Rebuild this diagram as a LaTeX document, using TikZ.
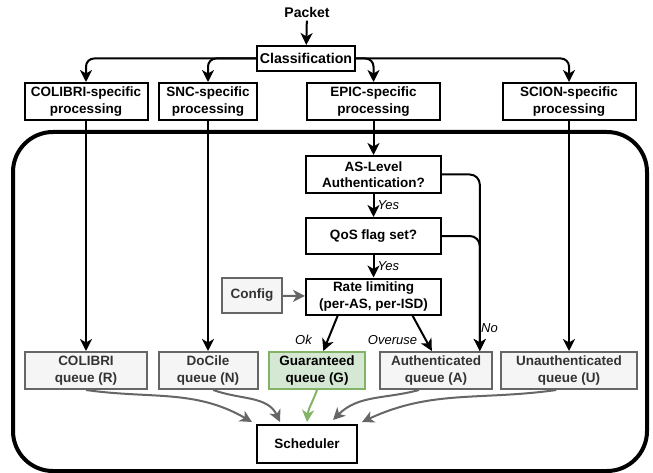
\documentclass[tikz,border=0pt]{standalone}
\usepackage{fontspec}
\setmainfont{Liberation Sans}
\usetikzlibrary{arrows.meta,calc,positioning}
\definecolor{QueueClr}{HTML}{666666}
\definecolor{QueueFill}{HTML}{F5F5F5}
\definecolor{QueueText}{HTML}{333333}
\definecolor{GoodClr}{HTML}{82B366}
\definecolor{GoodFill}{HTML}{D5E8D4}

\begin{document}
\begin{tikzpicture}[x=1pt,y=-1pt,
  box/.style={draw,line width=2pt,fill=white,align=center,inner sep=0pt,
    font=\bfseries\fontsize{13.5}{16.5}\selectfont},
  queue/.style={box,draw=QueueClr,fill=QueueFill,text=QueueText},
  good/.style={box,draw=GoodClr,fill=GoodFill,text=black},
  flow/.style={line width=2pt,-{Stealth[length=12pt,width=12pt,inset=3.5pt]}},
  gflow/.style={flow,draw=QueueClr},
  lbl/.style={font=\itshape\fontsize{13}{15}\selectfont,inner sep=1pt}]
\useasboundingbox (0,0) rectangle (653,473);

\draw[line width=4pt,rounded corners=40pt] (13,132) rectangle (647,471);

\node[font=\bfseries\fontsize{14}{16}\selectfont] (packet) at (307,12) {Packet};
\node[box,minimum width=98pt,minimum height=25pt,font=\bfseries\fontsize{14.2}{16}\selectfont] (classif) at (306,58.5) {Classification};

\node[box,minimum width=123pt,minimum height=37pt] (colibriP) at (86,101.5) {COLIBRI-specific\\processing};
\node[box,minimum width=98pt,minimum height=37pt] (sncP) at (208,101.5) {SNC-specific\\processing};
\node[box,minimum width=133pt,minimum height=37pt] (epicP) at (373.5,101.5) {EPIC-specific\\processing};
\node[box,minimum width=133pt,minimum height=37pt] (scionP) at (569,101.5) {SCION-specific\\processing};

\node[box,minimum width=135pt,minimum height=37pt] (asl) at (373.5,174.5) {AS-Level\\Authentication?};
\node[box,minimum width=135pt,minimum height=36pt] (qos) at (373.5,236) {QoS flag set?};
\node[box,minimum width=135pt,minimum height=36pt] (rate) at (373.5,296.5) {Rate limiting\\(per-AS, per-ISD)};
\node[queue,minimum width=60pt,minimum height=35pt] (config) at (252,295.5) {Config};

\node[queue,minimum width=122pt,minimum height=37pt] (colibriQ) at (86,370.5) {COLIBRI\\queue (R)};
\node[queue,minimum width=99pt,minimum height=37pt] (docileQ) at (208,370.5) {DoCile\\queue (N)};
\node[good,minimum width=96pt,minimum height=37pt] (guarQ) at (317,370.5) {Guaranteed\\queue (G)};
\node[queue,minimum width=112pt,minimum height=37pt] (authQ) at (436,370.5) {Authenticated\\queue (A)};
\node[queue,minimum width=136pt,minimum height=37pt] (unauthQ) at (569,370.5) {Unauthenticated\\queue (U)};

\node[box,minimum width=100pt,minimum height=38pt] (sched) at (307,444) {Scheduler};

\draw[flow] (packet) -- (classif);
\draw[flow,rounded corners=8pt] (classif.west) -| (colibriP.north);
\draw[flow,rounded corners=8pt] (classif.west) -| (sncP.north);
\draw[flow,rounded corners=8pt] (classif.east) -| (epicP.north);
\draw[flow,rounded corners=8pt] (classif.east) -| (scionP.north);

\draw[flow] (colibriP) -- (colibriQ);
\draw[flow] (sncP) -- (docileQ);
\draw[flow] (scionP) -- (unauthQ);
\draw[flow] (epicP) -- (asl);
\draw[flow] (asl) -- node[lbl,right=2pt] (yes1) {Yes} (qos);
\draw[flow] (qos) -- node[lbl,right=2pt] (yes2) {Yes} (rate);
\draw[gflow] (config) -- (rate);

\draw[flow,rounded corners=10pt] (asl.east) -| (authQ.24);
\draw[flow,rounded corners=10pt] (qos.east) -| (authQ.24);
\node[lbl,anchor=west] (no) at (480,328) {No};

\draw[flow] (rate.208) -- (guarQ.72);
\draw[flow] (rate.-26) -- (authQ.102);
\node[lbl] (ok) at (303.5,340) {Ok};
\node[lbl] (overuse) at (392.5,340) {Overuse};

\draw[gflow] (colibriQ.south) to[out=-8,in=150] ($(sched.north west)+(-4,-2)$);
\draw[gflow] (docileQ.-75) to[out=-20,in=115] ($(sched.north)+(-27,-2)$);
\draw[flow,draw=GoodClr] (guarQ.south) to[out=-110,in=85] ($(sched.north)+(0,-2)$);
\draw[gflow] (authQ.229) to[out=195,in=45] ($(sched.north)+(26,-4)$);
\draw[gflow] (unauthQ.237) to[out=188,in=25] ($(sched.north east)+(4,-2)$);
\end{tikzpicture}
\end{document}
